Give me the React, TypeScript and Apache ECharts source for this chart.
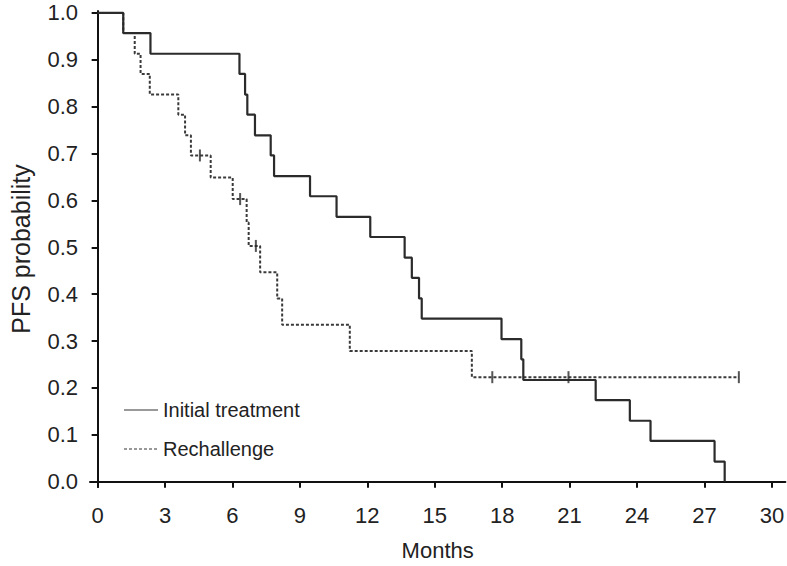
import React, { useEffect, useRef } from "react";
import * as echarts from "echarts";

const initTimes = [0, 1.14, 2.35, 6.31, 6.56, 6.66, 7.0, 7.7, 7.85, 9.45, 10.63, 12.13, 13.66, 13.98, 14.3, 14.42, 17.97, 18.85, 18.94, 22.16, 23.68, 24.6, 27.45, 27.9];
const initSurv = [1.0, 0.957, 0.913, 0.87, 0.826, 0.783, 0.739, 0.696, 0.652, 0.609, 0.565, 0.522, 0.478, 0.435, 0.391, 0.348, 0.304, 0.261, 0.217, 0.174, 0.13, 0.087, 0.043, 0.0];

const rechTimes = [0, 1.14, 1.65, 1.91, 2.32, 3.59, 3.89, 4.15, 5.03, 6.01, 6.63, 6.72, 7.23, 7.99, 8.21, 11.22, 16.65, 28.53];
const rechSurv = [1.0, 0.957, 0.913, 0.87, 0.826, 0.783, 0.739, 0.696, 0.649, 0.603, 0.553, 0.503, 0.447, 0.391, 0.335, 0.279, 0.223, 0.223];

const censorTimes = [4.55, 6.34, 7.04, 17.56, 20.95, 28.53];
const censorSurv = [0.696, 0.603, 0.503, 0.223, 0.223, 0.223];

const xTicks = [0, 3, 6, 9, 12, 15, 18, 21, 24, 27, 30];
const yTicks = [0, 0.1, 0.2, 0.3, 0.4, 0.5, 0.6, 0.7, 0.8, 0.9, 1.0];

const seriesNames = ["Initial treatment", "Rechallenge"];

const FONT = "'Liberation Sans', Arial, Helvetica, sans-serif";
const TXT = "#222";

export default function App() {
  const ref = useRef<HTMLDivElement>(null);
  useEffect(() => {
    if (!ref.current) return;
    const chart = echarts.init(ref.current, null, { renderer: "svg" });
    const zip = (a: number[], b: number[]) => a.map((v, i) => [v, b[i]]);
    chart.setOption({
      animation: false,
      backgroundColor: "#fff",
      textStyle: { fontFamily: FONT },
      grid: { left: 84, right: 0, top: 11, bottom: 78, containLabel: false },
      legend: {
        orient: "vertical",
        left: 118,
        top: 395,
        itemWidth: 34,
        itemHeight: 14,
        itemGap: 19,
        data: seriesNames,
        textStyle: { fontSize: 20, color: TXT, fontFamily: FONT },
        itemStyle: { opacity: 0 },
        lineStyle: { color: "#999", width: 2 },
      },
      xAxis: {
        type: "value",
        min: -0.34,
        max: 30.6,
        splitLine: { show: false },
        axisLine: { show: true, lineStyle: { color: "#111", width: 2 } },
        axisTick: { show: true, length: 6, customValues: xTicks, lineStyle: { color: "#111", width: 2 } },
        axisLabel: { customValues: xTicks, margin: 17, fontSize: 22, color: TXT, fontFamily: FONT },
        name: "Months",
        nameLocation: "middle",
        nameGap: 52,
        nameTextStyle: { fontSize: 22, color: TXT, fontFamily: FONT },
      },
      yAxis: {
        type: "value",
        min: -0.0113,
        max: 1.0042,
        splitLine: { show: false },
        axisLine: { show: true, lineStyle: { color: "#111", width: 2 } },
        axisTick: { show: true, length: 6, customValues: yTicks, lineStyle: { color: "#111", width: 2 } },
        axisLabel: {
          customValues: yTicks,
          margin: 12,
          fontSize: 22,
          color: TXT,
          fontFamily: FONT,
          formatter: (v: number) => v.toFixed(1),
        },
        name: "PFS probability",
        nameLocation: "middle",
        nameGap: 57,
        nameTextStyle: { fontSize: 25, color: TXT, fontFamily: FONT },
      },
      series: [
        {
          name: seriesNames[0],
          type: "line",
          step: "end",
          symbol: "none",
          data: zip(initTimes, initSurv),
          lineStyle: { color: "#2b2b2b", width: 2.2, type: "solid" },
          itemStyle: { color: "#2b2b2b" },
          z: 3,
        },
        {
          name: seriesNames[1],
          type: "line",
          step: "end",
          symbol: "none",
          data: zip(rechTimes, rechSurv),
          lineStyle: { color: "#3a3a3a", width: 2, type: [3, 2] },
          itemStyle: { color: "#3a3a3a" },
          z: 2,
        },
        {
          name: "censor",
          type: "scatter",
          symbol: "rect",
          symbolSize: [2, 12],
          data: zip(censorTimes, censorSurv),
          itemStyle: { color: "#2b2b2b" },
          z: 4,
        },
      ],
    });
    return () => chart.dispose();
  }, []);
  return <div ref={ref} style={{ position: "absolute", left: 0, top: 0, width: 787, height: 566 }} />;
}
